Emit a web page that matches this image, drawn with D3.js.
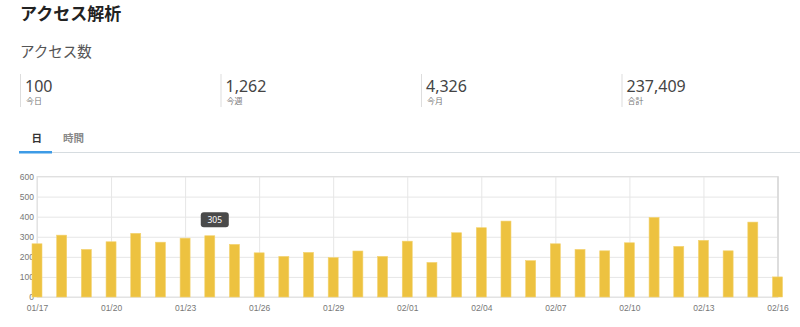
<!DOCTYPE html>
<html>
<head>
<meta charset="utf-8">
<script src="https://cdn.jsdelivr.net/npm/d3@7"></script>
<style>
  body { margin: 0; background: #fff; }
  svg { display: block; font-family: "Noto Sans", "Noto Sans CJK JP", sans-serif; }
  .grid line { stroke: #e6e6e6; }
  .grid path { display: none; }
  .grid text { fill: #777; font-size: 8.5px; }
</style>
</head>
<body>
<div id="chart"></div>
<script>
/* data */
var days = ["01/17","01/18","01/19","01/20","01/21","01/22","01/23","01/24","01/25","01/26",
            "01/27","01/28","01/29","01/30","01/31","02/01","02/02","02/03","02/04","02/05",
            "02/06","02/07","02/08","02/09","02/10","02/11","02/12","02/13","02/14","02/15","02/16"];
var visits = [265,308,237,275,317,273,293,305,262,220,
              202,222,196,229,202,278,172,320,345,378,
              181,265,237,230,270,396,252,282,230,373,100];
var dayTicks = ["01/17","01/20","01/23","01/26","01/29","02/01","02/04","02/07","02/10","02/13","02/16"];
var yTicks = [0,100,200,300,400,500,600];
var statValues = ["100","1,262","4,326","237,409"];
var statLabels = ["今日","今週","今月","合計"];
var tabLabels = ["日","時間"];
var tooltipDay = "01/24";

/* setup */
var width = 800, height = 327;
var plotL = 37, plotR = 778, plotT = 176.5, plotB = 297;
var barWidth = 10;

var svg = d3.select('#chart').append('svg')
    .attr('width', width)
    .attr('height', height);

// header
svg.append('text')
    .attr('x', 20).attr('y', 20)
    .style('font-size', '17px').style('font-weight', 'bold')
    .style('font-family', '"Noto Sans CJK JP", sans-serif')
    .attr('fill', '#222')
    .text('アクセス解析');

svg.append('text')
    .attr('x', 20).attr('y', 57)
    .style('font-size', '14.5px')
    .style('font-family', '"Noto Sans CJK JP", sans-serif')
    .attr('fill', '#555')
    .text('アクセス数');

// stats row
var statX = d3.scaleBand().domain(d3.range(statValues.length)).range([20, 822]);

var stat = svg.selectAll('.stat')
    .data(statValues)
  .enter().append('g')
    .attr('class', 'stat')
    .attr('transform', function (d, i) { return 'translate(' + statX(i) + ',0)'; });

stat.append('line')
    .attr('x1', 0.5).attr('x2', 0.5).attr('y1', 74).attr('y2', 107)
    .attr('stroke', '#ddd');

stat.append('text')
    .attr('x', 5).attr('y', 91.5)
    .style('font-size', '16px')
    .attr('fill', '#444')
    .text(function (d) { return d; });

stat.append('text')
    .attr('x', 6).attr('y', 104)
    .style('font-size', '8px')
    .style('font-family', '"Noto Sans CJK JP", sans-serif')
    .attr('fill', '#777')
    .text(function (d, i) { return statLabels[i]; });

// tabs
svg.append('line')
    .attr('x1', 19).attr('x2', 800).attr('y1', 152.5).attr('y2', 152.5)
    .attr('stroke', '#d6dce0');
svg.append('rect')
    .attr('x', 19).attr('y', 151).attr('width', 33).attr('height', 2.5)
    .attr('fill', '#3d9be6');

svg.selectAll('.tab')
    .data(tabLabels)
  .enter().append('text')
    .attr('class', 'tab')
    .attr('x', function (d, i) { return i === 0 ? 31.5 : 63; })
    .attr('y', 141.5)
    .style('font-size', '10.5px').style('font-weight', 'bold')
    .style('font-family', '"Noto Sans CJK JP", sans-serif')
    .attr('fill', function (d, i) { return i === 0 ? '#333' : '#888'; })
    .text(function (d) { return d; });

/* chart */
var x = d3.scalePoint().domain(days).range([plotL, 777.5]);
var y = d3.scaleLinear().domain([0, 600]).range([plotB, plotT]);

svg.append('g')
    .attr('class', 'grid')
    .attr('transform', 'translate(' + plotL + ',0)')
    .call(d3.axisLeft(y).tickValues(yTicks).tickSize(-(plotR - plotL)).tickPadding(3));

svg.append('g')
    .attr('class', 'grid')
    .attr('transform', 'translate(0,' + plotB + ')')
    .call(d3.axisBottom(x).tickValues(dayTicks).tickSize(-(plotB - plotT)).tickPadding(7.5));

// frame
svg.append('rect')
    .attr('x', plotL).attr('y', plotT)
    .attr('width', plotR - plotL).attr('height', plotB - plotT)
    .attr('fill', 'none').attr('stroke', '#e0e0e0');
svg.append('line')
    .attr('x1', plotR).attr('x2', plotR).attr('y1', plotT).attr('y2', plotB)
    .attr('stroke', '#d8d8d8').attr('stroke-width', 1.5);

svg.selectAll('.bar')
    .data(visits)
  .enter().append('rect')
    .attr('class', 'bar')
    .attr('x', function (d, i) { return x(days[i]) - barWidth / 2; })
    .attr('y', function (d) { return y(d); })
    .attr('width', barWidth)
    .attr('height', function (d) { return plotB - y(d); })
    .attr('fill', '#edc240')
    .attr('stroke', '#f3d370').attr('stroke-width', 0.6);

// tooltip
var ti = days.indexOf(tooltipDay);
var tip = svg.append('g')
    .attr('transform', 'translate(' + (x(tooltipDay) + 5) + ',' + (y(visits[ti]) - 16) + ')');
tip.append('rect')
    .attr('x', -14).attr('y', -7.5).attr('width', 28).attr('height', 15)
    .attr('rx', 3)
    .attr('fill', '#4a4a4a');
tip.append('text')
    .attr('text-anchor', 'middle').attr('dy', '0.35em')
    .style('font-size', '8.5px')
    .attr('fill', '#fff')
    .text(visits[ti]);
</script>
</body>
</html>
